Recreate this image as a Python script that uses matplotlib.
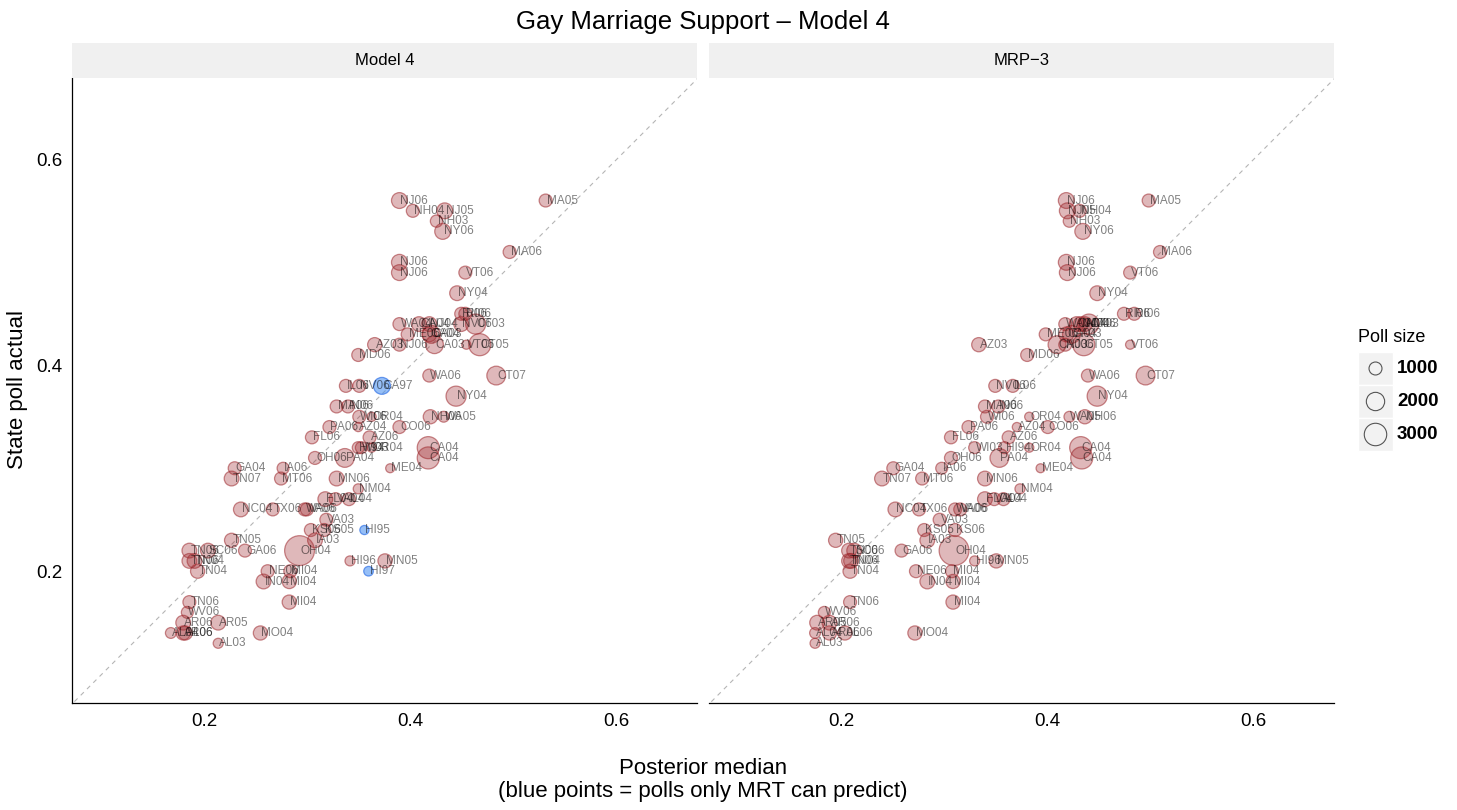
import numpy as np
import matplotlib
matplotlib.use('Agg')
import matplotlib.pyplot as plt
from matplotlib.patches import Rectangle

plt.rcParams['font.family'] = ['Liberation Sans', 'DejaVu Sans']

# polls seen by both models -------------------------------------------------------------
labels = ['MA05', 'NJ06', 'NH04', 'NJ05', 'NH03', 'NY06', 'MA06', 'NJ06', 'NJ06', 'VT06',
          'NY04', 'RI06', 'RI06', 'WA04', 'CA04', 'NJ04', 'NV06', 'CT03', 'ME06', 'CA04',
          'CA03', 'AZ03', 'NJ06', 'CA03', 'VT06', 'CT05', 'MD06', 'WA06', 'CT07', 'IL06',
          'NV06', 'NY04', 'MA06', 'IN06', 'WI06', 'OR04', 'NH06', 'WA05', 'PA06', 'AZ04',
          'CO06', 'FL06', 'AZ06', 'HI94', 'WI03', 'OR04', 'CA04', 'OH06', 'PA04', 'CA04',
          'GA04', 'IA06', 'ME04', 'TN07', 'MT06', 'MN06', 'NM04', 'FL04', 'VA04', 'IL04',
          'NC04', 'TX06', 'WA06', 'VA06', 'VA03', 'KS06', 'KS05', 'TN05', 'IA03', 'TN06',
          'SC06', 'GA06', 'OH04', 'TN06', 'TN04', 'HI96', 'MN05', 'TN04', 'NE06', 'MI04',
          'IN04', 'MI04', 'MI04', 'TN06', 'WV06', 'AR06', 'AR05', 'AL04', 'AR06', 'AL06',
          'MO04', 'AL03']
poll_actual = [0.56, 0.56, 0.55, 0.55, 0.54, 0.53, 0.51, 0.50, 0.49, 0.49,
               0.47, 0.45, 0.45, 0.44, 0.44, 0.44, 0.44, 0.44, 0.43, 0.43,
               0.43, 0.42, 0.42, 0.42, 0.42, 0.42, 0.41, 0.39, 0.39, 0.38,
               0.38, 0.37, 0.36, 0.36, 0.35, 0.35, 0.35, 0.35, 0.34, 0.34,
               0.34, 0.33, 0.33, 0.32, 0.32, 0.32, 0.32, 0.31, 0.31, 0.31,
               0.30, 0.30, 0.30, 0.29, 0.29, 0.29, 0.28, 0.27, 0.27, 0.27,
               0.26, 0.26, 0.26, 0.26, 0.25, 0.24, 0.24, 0.23, 0.23, 0.22,
               0.22, 0.22, 0.22, 0.21, 0.21, 0.21, 0.21, 0.20, 0.20, 0.20,
               0.19, 0.19, 0.17, 0.17, 0.16, 0.15, 0.15, 0.14, 0.14, 0.14,
               0.14, 0.13]
median_model4 = [0.531, 0.389, 0.402, 0.433, 0.425, 0.431, 0.496, 0.389, 0.389, 0.453,
                 0.445, 0.449, 0.453, 0.389, 0.408, 0.418, 0.449, 0.463, 0.397, 0.418,
                 0.420, 0.365, 0.389, 0.423, 0.454, 0.467, 0.349, 0.418, 0.483, 0.337,
                 0.350, 0.444, 0.328, 0.339, 0.350, 0.362, 0.419, 0.432, 0.321, 0.349,
                 0.389, 0.304, 0.360, 0.349, 0.352, 0.362, 0.417, 0.307, 0.336, 0.417,
                 0.229, 0.276, 0.380, 0.226, 0.274, 0.328, 0.349, 0.317, 0.327, 0.340,
                 0.235, 0.266, 0.297, 0.299, 0.318, 0.303, 0.316, 0.226, 0.307, 0.185,
                 0.203, 0.239, 0.292, 0.185, 0.190, 0.341, 0.375, 0.193, 0.261, 0.283,
                 0.257, 0.282, 0.282, 0.185, 0.183, 0.179, 0.213, 0.167, 0.179, 0.181,
                 0.254, 0.213]
median_mrp3 = [0.498, 0.418, 0.431, 0.419, 0.421, 0.434, 0.509, 0.418, 0.419, 0.480,
               0.448, 0.474, 0.484, 0.417, 0.428, 0.432, 0.436, 0.440, 0.398, 0.418,
               0.423, 0.333, 0.417, 0.409, 0.480, 0.435, 0.380, 0.439, 0.495, 0.366,
               0.349, 0.448, 0.339, 0.352, 0.341, 0.382, 0.436, 0.421, 0.323, 0.370,
               0.400, 0.306, 0.362, 0.358, 0.329, 0.382, 0.432, 0.306, 0.353, 0.433,
               0.250, 0.297, 0.393, 0.239, 0.278, 0.339, 0.373, 0.339, 0.348, 0.357,
               0.252, 0.275, 0.310, 0.315, 0.295, 0.310, 0.280, 0.194, 0.283, 0.207,
               0.212, 0.258, 0.309, 0.207, 0.209, 0.329, 0.350, 0.208, 0.272, 0.307,
               0.283, 0.308, 0.308, 0.208, 0.183, 0.188, 0.176, 0.174, 0.188, 0.203,
               0.271, 0.174]
poll_n = [1000, 1500, 1000, 1500, 900, 1500, 1000, 1500, 1500, 1000,
          1300, 1000, 1000, 1000, 1300, 1300, 1300, 2400, 1000, 1300,
          1900, 1200, 1000, 1900, 500, 2900, 1000, 1000, 2100, 1000,
          1000, 2400, 1000, 1000, 1000, 500, 1200, 700, 1000, 500,
          1000, 1000, 1000, 850, 850, 500, 2900, 1000, 2100, 2900,
          1000, 850, 480, 1300, 1000, 1300, 600, 1300, 1000, 1000,
          1300, 1000, 1000, 1000, 1000, 1000, 1000, 1200, 1300, 1300,
          1300, 1000, 5300, 1300, 1300, 600, 1200, 1200, 1000, 1000,
          1300, 1200, 1200, 1000, 850, 1300, 1300, 700, 1200, 1200,
          1200, 600]

# polls only MRT can predict (blue, Model 4 panel only)
blue_labels = ['CA97', 'HI95', 'HI97']
blue_actual = [0.38, 0.24, 0.20]
blue_median = [0.372, 0.355, 0.359]
blue_n = [1700, 500, 550]

legend_n = [1000, 2000, 3000]

#-----------------------------------------------------------------------------------------
W, H = 1457, 810
fig = plt.figure(figsize=(W / 100, H / 100), dpi=100)

def px_box(x0, y0, x1, y1):
    return [x0 / W, 1 - y1 / H, (x1 - x0) / W, (y1 - y0) / H]

def size(n):
    return 0.0871 * np.asarray(n, dtype=float)

pink_face = (0.62, 0.16, 0.18, 0.33)
pink_edge = (0.62, 0.16, 0.18, 0.55)
blue_face = (0.25, 0.55, 0.95, 0.55)
blue_edge = (0.2, 0.45, 0.9, 0.7)

panels = [('Model 4', median_model4, 72), ('MRP\u22123', median_mrp3, 709)]
lo_x, hi_x = 0.071, 0.678
lo_y, hi_y = 0.072, 0.679
lab_fs = 8.5

for i, (name, med, left) in enumerate(panels):
    ax = fig.add_axes(px_box(left, 78, left + 625, 703))
    ax.set_xlim(lo_x, hi_x)
    ax.set_ylim(lo_y, hi_y)
    ax.plot([0, 1], [0, 1], ls=(0, (4, 4)), color='#b5b5b5', lw=0.8, zorder=1)
    ax.scatter(med, poll_actual, s=size(poll_n), facecolor=pink_face,
               edgecolor=pink_edge, linewidth=0.9, zorder=2)
    if i == 0:
        ax.scatter(blue_median, blue_actual, s=size(blue_n), facecolor=blue_face,
                   edgecolor=blue_edge, linewidth=0.9, zorder=2)
    for lab, xx, yy in zip(labels, med, poll_actual):
        ax.text(xx + 0.001, yy, lab, fontsize=lab_fs, color='black', alpha=0.5,
                ha='left', va='center', zorder=3)
    if i == 0:
        for lab, xx, yy in zip(blue_labels, blue_median, blue_actual):
            ax.text(xx + 0.001, yy, lab, fontsize=lab_fs, color='black', alpha=0.5,
                    ha='left', va='center', zorder=3)
    ax.set_xticks([0.2, 0.4, 0.6])
    ax.set_xticklabels(['0.2', '0.4', '0.6'])
    ax.set_yticks([0.2, 0.4, 0.6])
    ax.tick_params(length=0, labelsize=13.5, pad=7)
    for sp in ['top', 'right']:
        ax.spines[sp].set_visible(False)
    ax.spines['bottom'].set_linewidth(0.9)
    ax.spines['left'].set_linewidth(0.9)
    if i == 1:
        ax.spines['left'].set_visible(False)
        ax.set_yticklabels([])
    else:
        ax.set_yticklabels(['0.2', '0.4', '0.6'])

    # facet strip
    st = fig.add_axes(px_box(left, 43, left + 625, 78))
    st.set_facecolor('#f0f0f0')
    st.set_xticks([])
    st.set_yticks([])
    for sp in st.spines.values():
        sp.set_visible(False)
    st.text(0.5, 0.5, name, ha='center', va='center', fontsize=12, transform=st.transAxes)

fig.text(703 / W, 1 - 22 / H, 'Gay Marriage Support \u2013 Model 4', ha='center', va='center', fontsize=18.5)
fig.text(18 / W, 1 - 390 / H, 'State poll actual', rotation=90, ha='center', va='center', fontsize=16)
fig.text(703 / W, 1 - 780 / H, 'Posterior median\n(blue points = polls only MRT can predict)',
         ha='center', va='center', fontsize=16, linespacing=1.1)

# legend for poll size
lg = fig.add_axes(px_box(1350, 320, 1457, 460))
lg.set_xlim(1350, 1457)
lg.set_ylim(460, 320)
lg.axis('off')
lg.text(1358, 337, 'Poll size', fontsize=13, ha='left', va='center')
tops = [352, 385, 418]
for t, n in zip(tops, legend_n):
    lg.add_patch(Rectangle((1358, t), 35, 33, facecolor='#f2f2f2', edgecolor='white', lw=1))
    lg.scatter([1375.5], [t + 16.5], s=size(n), facecolor='none', edgecolor='#555555', linewidth=0.8)
    lg.text(1397, t + 16.5, str(n), fontsize=13.5, fontweight='bold', ha='left', va='center')

plt.savefig('out.png', dpi=100)
